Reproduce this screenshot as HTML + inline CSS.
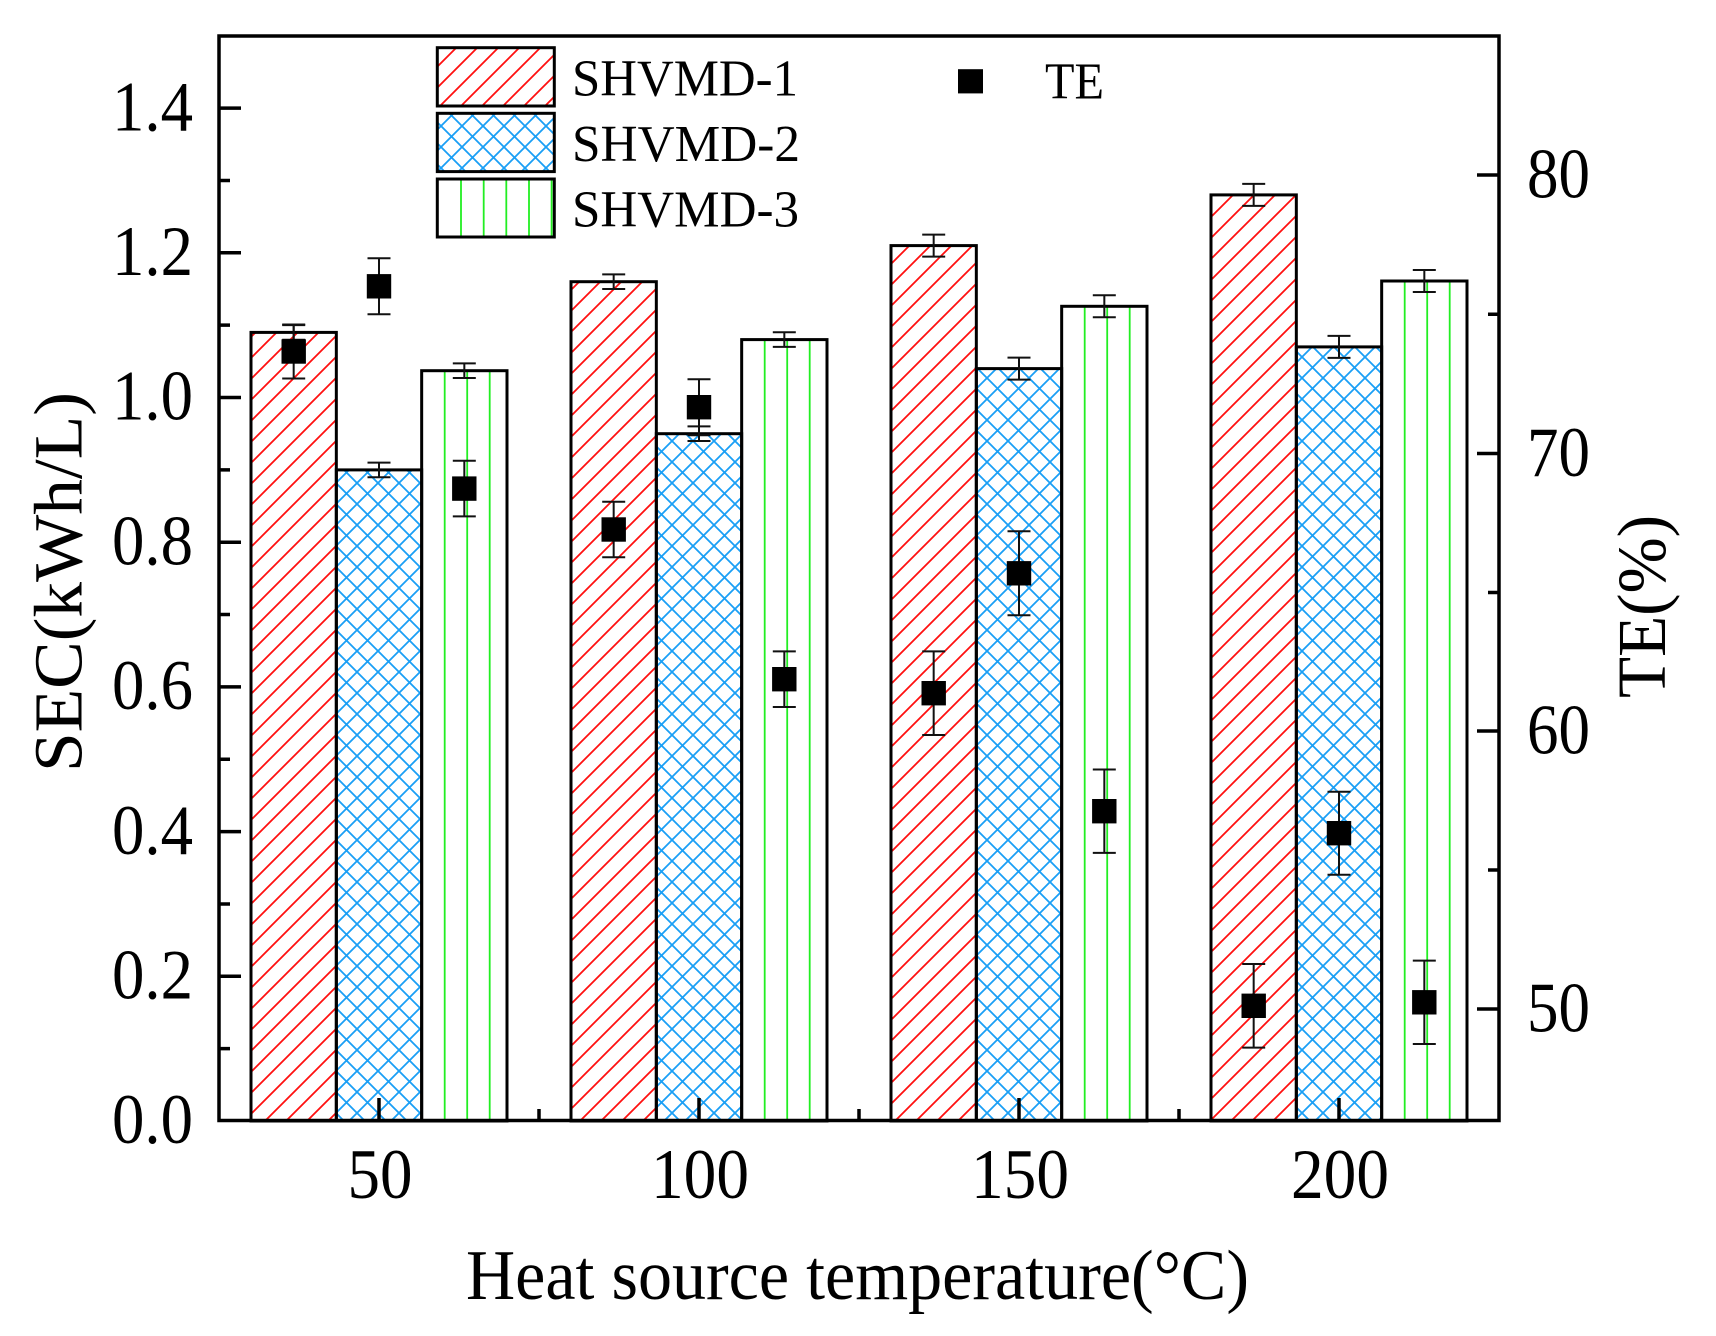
<!DOCTYPE html>
<html><head><meta charset="utf-8"><style>
html,body{margin:0;padding:0;background:#fff;}
svg{display:block;}
text{font-family:"Liberation Serif","Times New Roman",serif;fill:#000;}
</style></head><body>
<svg width="1716" height="1336" viewBox="0 0 1716 1336" xmlns="http://www.w3.org/2000/svg">
<defs>
<pattern id="red" patternUnits="userSpaceOnUse" width="21" height="21">
<path d="M-5,5 L5,-5 M0,21 L21,0 M16,26 L26,16" stroke="#ff1010" stroke-width="1.8" fill="none"/>
</pattern>
<pattern id="blue" patternUnits="userSpaceOnUse" width="21" height="21">
<path d="M-5,5 L5,-5 M0,21 L21,0 M16,26 L26,16 M-5,16 L5,26 M0,0 L21,21 M16,-5 L26,5" stroke="#1a9ff5" stroke-width="1.8" fill="none"/>
</pattern>
</defs>
<rect x="0" y="0" width="1716" height="1336" fill="#fff"/>

<!-- Bars: group 50 -->
<rect x="251" y="332.4" width="85.33" height="788.6" fill="url(#red)"/>
<rect x="336.33" y="469.9" width="85.33" height="651.1" fill="url(#blue)"/>
<g stroke="#22ee22" stroke-width="1.8">
<path d="M444.7,370.7V1121 M467.2,370.7V1121 M489.7,370.7V1121"/>
</g>
<!-- group 100 -->
<rect x="571" y="281.7" width="85.33" height="839.3" fill="url(#red)"/>
<rect x="656.33" y="433.7" width="85.33" height="687.3" fill="url(#blue)"/>
<g stroke="#22ee22" stroke-width="1.8">
<path d="M764.7,339.6V1121 M787.2,339.6V1121 M809.7,339.6V1121"/>
</g>
<!-- group 150 -->
<rect x="891" y="245.6" width="85.33" height="875.4" fill="url(#red)"/>
<rect x="976.33" y="368.6" width="85.33" height="752.4" fill="url(#blue)"/>
<g stroke="#22ee22" stroke-width="1.8">
<path d="M1084.7,306.3V1121 M1107.2,306.3V1121 M1129.7,306.3V1121"/>
</g>
<!-- group 200 -->
<rect x="1211" y="194.9" width="85.33" height="926.1" fill="url(#red)"/>
<rect x="1296.33" y="346.9" width="85.33" height="774.1" fill="url(#blue)"/>
<g stroke="#22ee22" stroke-width="1.8">
<path d="M1404.7,281V1121 M1427.2,281V1121 M1449.7,281V1121"/>
</g>

<!-- bar outlines -->
<g fill="none" stroke="#000" stroke-width="3">
<rect x="251" y="332.4" width="85.33" height="788.6"/>
<rect x="336.33" y="469.9" width="85.33" height="651.1"/>
<rect x="421.67" y="370.7" width="85.33" height="750.3"/>
<rect x="571" y="281.7" width="85.33" height="839.3"/>
<rect x="656.33" y="433.7" width="85.33" height="687.3"/>
<rect x="741.67" y="339.6" width="85.33" height="781.4"/>
<rect x="891" y="245.6" width="85.33" height="875.4"/>
<rect x="976.33" y="368.6" width="85.33" height="752.4"/>
<rect x="1061.67" y="306.3" width="85.33" height="814.7"/>
<rect x="1211" y="194.9" width="85.33" height="926.1"/>
<rect x="1296.33" y="346.9" width="85.33" height="774.1"/>
<rect x="1381.67" y="281" width="85.33" height="840"/>
</g>

<!-- SEC error bars -->
<g fill="none" stroke="#111" stroke-width="2">
<path d="M282.2,325.1H305.2 M293.67,325.1V339.7 M282.2,339.7H305.2"/>
<path d="M367.5,462.6H390.5 M379,462.6V477.2 M367.5,477.2H390.5"/>
<path d="M452.8,363.4H475.8 M464.33,363.4V378 M452.8,378H475.8"/>
<path d="M602.2,274.4H625.2 M613.67,274.4V289 M602.2,289H625.2"/>
<path d="M687.5,426.4H710.5 M699,426.4V441 M687.5,441H710.5"/>
<path d="M772.8,332.3H795.8 M784.33,332.3V346.9 M772.8,346.9H795.8"/>
<path d="M922.2,234.6H945.2 M933.67,234.6V256.6 M922.2,256.6H945.2"/>
<path d="M1007.5,357.6H1030.5 M1019,357.6V379.6 M1007.5,379.6H1030.5"/>
<path d="M1092.8,295.3H1115.8 M1104.33,295.3V317.3 M1092.8,317.3H1115.8"/>
<path d="M1242.2,183.9H1265.2 M1253.67,183.9V205.9 M1242.2,205.9H1265.2"/>
<path d="M1327.5,335.9H1350.5 M1339,335.9V357.9 M1327.5,357.9H1350.5"/>
<path d="M1412.8,270H1435.8 M1424.33,270V292 M1412.8,292H1435.8"/>
</g>

<!-- TE error bars -->
<g fill="none" stroke="#111" stroke-width="2">
<path d="M282.2,324.5H305.2 M293.67,324.5V378.5 M282.2,378.5H305.2"/>
<path d="M367.5,258.3H390.5 M379,258.3V314.3 M367.5,314.3H390.5"/>
<path d="M452.8,460.8H475.8 M464.33,460.8V516.4 M452.8,516.4H475.8"/>
<path d="M602.2,501.7H625.2 M613.67,501.7V557.3 M602.2,557.3H625.2"/>
<path d="M687.5,379.2H710.5 M699,379.2V435.2 M687.5,435.2H710.5"/>
<path d="M772.8,651.4H795.8 M784.33,651.4V707 M772.8,707H795.8"/>
<path d="M922.2,651.4H945.2 M933.67,651.4V735 M922.2,735H945.2"/>
<path d="M1007.5,531.3H1030.5 M1019,531.3V615.3 M1007.5,615.3H1030.5"/>
<path d="M1092.8,769.5H1115.8 M1104.33,769.5V852.9 M1092.8,852.9H1115.8"/>
<path d="M1242.2,964H1265.2 M1253.67,964V1047.6 M1242.2,1047.6H1265.2"/>
<path d="M1327.5,791.7H1350.5 M1339,791.7V874.7 M1327.5,874.7H1350.5"/>
<path d="M1412.8,960.6H1435.8 M1424.33,960.6V1044 M1412.8,1044H1435.8"/>
</g>

<!-- TE squares -->
<g fill="#000">
<rect x="281.5" y="339.3" width="24.4" height="24.4"/>
<rect x="366.8" y="274.1" width="24.4" height="24.4"/>
<rect x="452.1" y="476.4" width="24.4" height="24.4"/>
<rect x="601.5" y="517.3" width="24.4" height="24.4"/>
<rect x="686.8" y="395" width="24.4" height="24.4"/>
<rect x="772.1" y="667" width="24.4" height="24.4"/>
<rect x="921.5" y="681" width="24.4" height="24.4"/>
<rect x="1006.8" y="561.1" width="24.4" height="24.4"/>
<rect x="1092.1" y="799" width="24.4" height="24.4"/>
<rect x="1241.5" y="993.6" width="24.4" height="24.4"/>
<rect x="1326.8" y="821" width="24.4" height="24.4"/>
<rect x="1412.1" y="990.1" width="24.4" height="24.4"/>
</g>

<!-- Legend -->
<rect x="437.3" y="47.7" width="117" height="58.3" fill="url(#red)"/>
<rect x="437.3" y="113.3" width="117" height="58.3" fill="url(#blue)"/>
<g stroke="#22ee22" stroke-width="1.8">
<path d="M461,179V237 M483.7,179V237 M506.3,179V237 M529,179V237 M551.6,179V237"/>
</g>
<g fill="none" stroke="#000" stroke-width="3">
<rect x="437.3" y="47.7" width="117" height="58.3"/>
<rect x="437.3" y="113.3" width="117" height="58.3"/>
<rect x="437.3" y="179" width="117" height="58"/>
</g>
<text x="572" y="95.5" font-size="52" textLength="226" lengthAdjust="spacingAndGlyphs">SHVMD-1</text>
<text x="572" y="161" font-size="52" textLength="228" lengthAdjust="spacingAndGlyphs">SHVMD-2</text>
<text x="572" y="226.6" font-size="52" textLength="227" lengthAdjust="spacingAndGlyphs">SHVMD-3</text>
<rect x="958" y="69.2" width="25" height="24.2" fill="#000"/>
<text x="1045" y="98.5" font-size="52" textLength="59" lengthAdjust="spacingAndGlyphs">TE</text>

<!-- Axes frame -->
<rect x="219" y="36" width="1280" height="1084.5" fill="none" stroke="#000" stroke-width="3.5"/>

<!-- Ticks -->
<g stroke="#000" stroke-width="3.5" fill="none">
<path d="M219,976.3H241 M219,831.6H241 M219,686.9H241 M219,542.2H241 M219,397.5H241 M219,252.8H241 M219,108.1H241"/>
<path d="M219,1048.65H230 M219,903.95H230 M219,759.25H230 M219,614.55H230 M219,469.85H230 M219,325.15H230 M219,180.45H230"/>
<path d="M1499,175H1477 M1499,453.5H1477 M1499,731H1477 M1499,1009H1477"/>
<path d="M1499,314.2H1488 M1499,592.5H1488 M1499,870H1488"/>
<path d="M379,1120V1098 M699,1120V1098 M1019,1120V1098 M1339,1120V1098"/>
<path d="M539,1120V1109 M859,1120V1109 M1179,1120V1109"/>
</g>

<!-- Left tick labels -->
<g font-size="71" text-anchor="end">
<text x="193" y="1143" textLength="81" lengthAdjust="spacingAndGlyphs">0.0</text>
<text x="193" y="998.5" textLength="81" lengthAdjust="spacingAndGlyphs">0.2</text>
<text x="193" y="853.8" textLength="81" lengthAdjust="spacingAndGlyphs">0.4</text>
<text x="193" y="709.1" textLength="81" lengthAdjust="spacingAndGlyphs">0.6</text>
<text x="193" y="564.4" textLength="81" lengthAdjust="spacingAndGlyphs">0.8</text>
<text x="193" y="419.7" textLength="81" lengthAdjust="spacingAndGlyphs">1.0</text>
<text x="193" y="275" textLength="81" lengthAdjust="spacingAndGlyphs">1.2</text>
<text x="193" y="130.3" textLength="81" lengthAdjust="spacingAndGlyphs">1.4</text>
</g>

<!-- Right tick labels -->
<g font-size="71">
<text x="1527" y="197.3" textLength="63" lengthAdjust="spacingAndGlyphs">80</text>
<text x="1527" y="475.8" textLength="63" lengthAdjust="spacingAndGlyphs">70</text>
<text x="1527" y="753.3" textLength="63" lengthAdjust="spacingAndGlyphs">60</text>
<text x="1527" y="1031.3" textLength="63" lengthAdjust="spacingAndGlyphs">50</text>
</g>

<!-- Bottom tick labels -->
<g font-size="71" text-anchor="middle">
<text x="380" y="1198" textLength="65" lengthAdjust="spacingAndGlyphs">50</text>
<text x="700" y="1198" textLength="98" lengthAdjust="spacingAndGlyphs">100</text>
<text x="1020" y="1198" textLength="98" lengthAdjust="spacingAndGlyphs">150</text>
<text x="1340" y="1198" textLength="98" lengthAdjust="spacingAndGlyphs">200</text>
</g>

<!-- Axis titles -->
<text x="466" y="1299" font-size="71" textLength="783" lengthAdjust="spacingAndGlyphs">Heat source temperature(°C)</text>
<text transform="translate(81.7,772) rotate(-90)" x="0" y="0" font-size="69" textLength="380" lengthAdjust="spacingAndGlyphs">SEC(kWh/L)</text>
<text transform="translate(1665,698) rotate(-90)" x="0" y="0" font-size="69" textLength="183" lengthAdjust="spacingAndGlyphs">TE(%)</text>
</svg>
</body></html>
